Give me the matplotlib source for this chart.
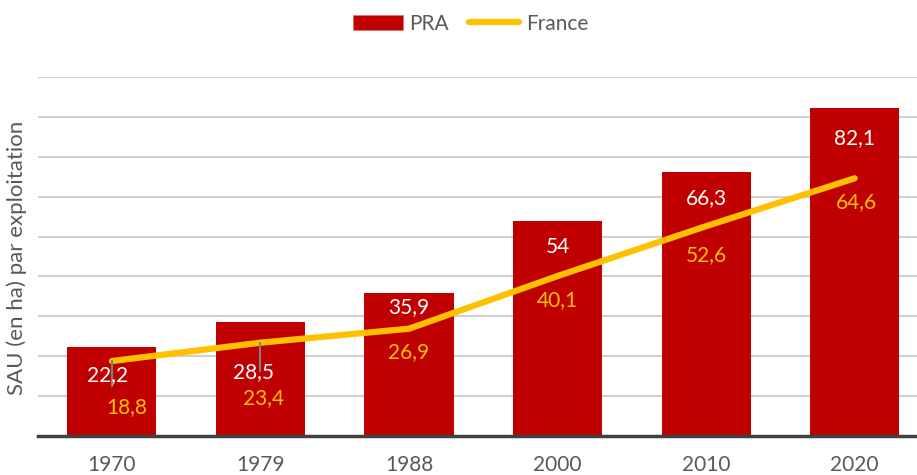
import numpy as np
import matplotlib.pyplot as plt
from matplotlib.patches import Patch
from matplotlib.lines import Line2D

plt.rcParams['font.family'] = ['Lato', 'DejaVu Sans']

years = ['1970', '1979', '1988', '2000', '2010', '2020']
pra = [22.2, 28.5, 35.9, 54, 66.3, 82.1]
france = [18.8, 23.4, 26.9, 40.1, 52.6, 64.6]
pra_labels = ['22,2', '28,5', '35,9', '54', '66,3', '82,1']
france_labels = ['18,8', '23,4', '26,9', '40,1', '52,6', '64,6']

red = '#C00000'
gold = '#FFC000'
grey = '#595959'

fig = plt.figure(figsize=(9.17, 4.75), dpi=100)
ax = fig.add_axes([0.041, 0.082, 0.972, 0.756])

x = np.arange(len(years))
ax.bar(x, pra, width=0.6, color=red, zorder=2)
ax.plot(x, france, color=gold, linewidth=4.5, solid_capstyle='round', zorder=3)

# manual label offsets (points), like the moved labels in the original
pra_dy = [-20, -36, -10, -19, -19, -21]
pra_dx = [-3, -5, 0, 0, 0, 0]
fr_dy = [-33, -40, -17, -17, -21, -17]
fr_dx = [11, 2, 0, 0, 0, 1]

for i in range(len(years)):
    ax.annotate(pra_labels[i], (x[i], pra[i]), xytext=(pra_dx[i], pra_dy[i]),
                textcoords='offset points', ha='center', va='center',
                color='white', fontsize=15, zorder=5)
    ax.annotate(france_labels[i], (x[i], france[i]), xytext=(fr_dx[i], fr_dy[i]),
                textcoords='offset points', ha='center', va='center',
                color=gold, fontsize=15, zorder=5)

# leader lines of the two moved labels
for i, drop in [(0, 6.2), (1, 7.0)]:
    ax.plot([x[i], x[i]], [france[i], france[i] - drop], color='#7F7F7F',
            linewidth=1.5, zorder=4)

ax.set_xlim(-0.5, 5.5)
ax.set_ylim(0, 90)
ax.set_yticks(np.arange(10, 91, 10))
ax.yaxis.grid(True, color='#D0D0D0', linewidth=1.5, zorder=0)
ax.tick_params(axis='y', length=0, labelleft=False)
ax.tick_params(axis='x', length=0, pad=14, labelsize=15, labelcolor=grey)
ax.set_xticks(x)
ax.set_xticklabels(years)
for s in ['top', 'right', 'left']:
    ax.spines[s].set_visible(False)
ax.spines['bottom'].set_color('#404040')
ax.spines['bottom'].set_linewidth(2.5)
ax.set_ylabel('SAU (en ha) par exploitation', fontsize=16, color=grey)
ax.yaxis.label.set_verticalalignment('center')
ax.yaxis.set_label_coords(-0.024, 0.495)

handles = [Patch(facecolor=red, edgecolor='#E07070', linewidth=0.5),
           Line2D([0], [0], color=gold, linewidth=4.5, solid_capstyle='round')]
fig.legend(handles, ['PRA', 'France'], loc='center', bbox_to_anchor=(0.513, 0.95),
           ncol=2, frameon=False, fontsize=15, labelcolor=grey,
           handlelength=2.4, handletextpad=0.3, columnspacing=1.0)

fig.savefig('out.png', dpi=100)
